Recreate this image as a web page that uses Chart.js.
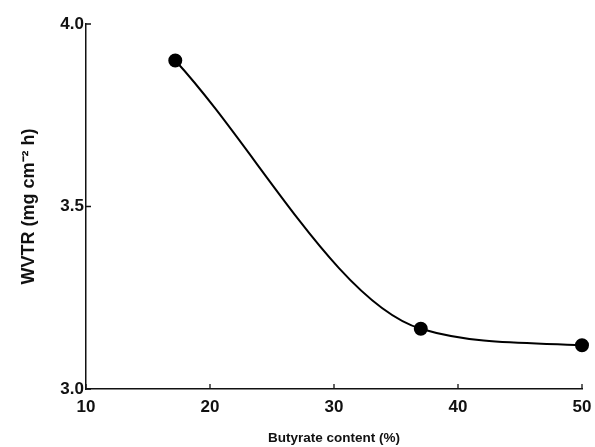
<!DOCTYPE html>
<html>
<head>
<meta charset="utf-8">
<script src="https://cdn.jsdelivr.net/npm/chart.js@4"></script>
<style>
html,body{margin:0;padding:0;background:#fff;}
#wrap{width:595px;height:447px;}
</style>
</head>
<body>
<div id="wrap"><canvas id="c" width="595" height="447"></canvas></div>
<script>
const butyrate = [17.2, 37, 50];
const wvtr = [3.90, 3.165, 3.12];
const xTicks = [10, 20, 30, 40, 50];
const yTicks = [3.0, 3.5, 4.0];
const xTitle = 'Butyrate content (%)';
const yTitle = 'WVTR (mg cm\u207B\u00B2 h)';

const inwardTicks = {
  id: 'inwardTicks',
  afterDraw(chart) {
    const ctx = chart.ctx;
    const xs = chart.scales.x, ys = chart.scales.y;
    const ca = chart.chartArea;
    ctx.save();
    ctx.strokeStyle = '#111';
    ctx.lineWidth = 1.3;
    ctx.beginPath();
    xTicks.forEach(v => {
      const px = xs.getPixelForValue(v);
      ctx.moveTo(px, ca.bottom);
      ctx.lineTo(px, ca.bottom - 5);
    });
    yTicks.forEach(v => {
      const py = ys.getPixelForValue(v);
      ctx.moveTo(ca.left, py);
      ctx.lineTo(ca.left + 5, py);
    });
    ctx.stroke();
    ctx.restore();
  }
};

new Chart(document.getElementById('c'), {
  type: 'scatter',
  data: {
    datasets: [{
      data: butyrate.map((x, i) => ({x: x, y: wvtr[i]})),
      showLine: true,
      borderColor: '#000',
      backgroundColor: '#000',
      borderWidth: 2,
      pointRadius: 6,
      pointHoverRadius: 6,
      cubicInterpolationMode: 'monotone',
      clip: false
    }]
  },
  options: {
    responsive: false,
    animation: false,
    events: [],
    layout: {autoPadding: false, padding: {top: 24, right: 13, left: 0, bottom: 0}},
    plugins: {legend: {display: false}, tooltip: {enabled: false}},
    scales: {
      x: {
        type: 'linear',
        min: 10, max: 50,
        afterBuildTicks: s => { s.ticks = xTicks.map(v => ({value: v})); },
        afterFit: s => { s.height = 58; },
        grid: {drawOnChartArea: false, drawTicks: true, tickLength: 8, tickColor: 'rgba(0,0,0,0)'},
        border: {display: true, color: '#111', width: 1.5},
        ticks: {color: '#111', font: {family: 'Liberation Sans', size: 17, weight: 'bold'}, padding: 0, maxRotation: 0,
                callback: v => String(v)},
        title: {display: true, text: xTitle, color: '#111', font: {family: 'Liberation Sans', size: 13.5, weight: 'bold'}, padding: {top: 0, bottom: 1}}
      },
      y: {
        type: 'linear',
        min: 3.0, max: 4.0,
        afterBuildTicks: s => { s.ticks = yTicks.map(v => ({value: v})); },
        afterFit: s => { s.width = 86; },
        grid: {display: false, drawTicks: false},
        border: {display: true, color: '#111', width: 1.5},
        ticks: {color: '#111', font: {family: 'Liberation Sans', size: 17, weight: 'bold'}, padding: 2,
                callback: v => v.toFixed(1)},
        title: {display: true, text: yTitle, color: '#111', font: {family: 'Liberation Sans', size: 18, weight: 'bold'}, padding: {top: 18, bottom: 0}}
      }
    }
  },
  plugins: [inwardTicks]
});
</script>
</body>
</html>
